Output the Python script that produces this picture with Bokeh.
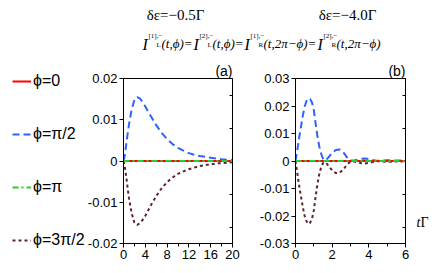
from bokeh.plotting import figure
from bokeh.models import (Range1d, LinearAxis, FixedTicker, SingleIntervalTicker,
                          Legend, LegendItem, Title, ColumnDataSource)
from bokeh.layouts import column, row
from bokeh.embed import file_html
from bokeh.resources import INLINE

# ---------------- data ----------------
t_a = [0, 0.25, 0.5, 0.75, 1, 1.5, 2, 2.5, 3, 3.5, 4, 5, 6, 7, 8, 9, 10,
       11, 12, 13, 14, 15, 16, 17, 18, 19, 20]
blue_a = [0, 0.0015, 0.0040, 0.0065, 0.0088, 0.0125, 0.0148, 0.0155, 0.0152,
          0.0143, 0.0132, 0.0109, 0.0087, 0.0068, 0.0053, 0.0041, 0.0032,
          0.0025, 0.0019, 0.0015, 0.0012, 0.0010, 0.0008, 0.0006, 0.0004,
          0.0003, 0.0002]
maroon_a = [0, -0.0015, -0.0038, -0.0065, -0.0090, -0.0127, -0.0149, -0.0155,
            -0.0151, -0.0143, -0.0133, -0.0108, -0.0085, -0.0066, -0.0051,
            -0.0040, -0.0031, -0.0025, -0.0020, -0.0016, -0.0012, -0.0010,
            -0.0008, -0.0006, -0.0005, -0.0004, -0.0003]
t_zero_a = [0, 20]
red_a = [0, 0]
green_a = [0, 0]

t_b = [0, 0.1, 0.2, 0.3, 0.4, 0.5, 0.6, 0.7, 0.8, 0.9, 1.0, 1.1, 1.2, 1.3,
       1.4, 1.5, 1.6, 1.7, 1.8, 2.0, 2.2, 2.4, 2.6, 2.8, 3.0, 3.2, 3.4, 3.6,
       3.8, 4.0, 4.2, 4.4, 4.6, 5.0, 5.5, 6.0]
blue_b = [0, 0.0040, 0.0085, 0.0125, 0.0165, 0.0198, 0.0218, 0.0228, 0.0225,
          0.0213, 0.0185, 0.0135, 0.0088, 0.0052, 0.0026, 0.0009, 0.0002,
          0.0006, 0.0013, 0.0030, 0.0040, 0.0042, 0.0033, 0.0014, 0.0002,
          0.0002, 0.0005, 0.0008, 0.0009, 0.0007, 0.0004, 0.0001, 0.0001,
          0.0003, 0.0002, 0.0001]
maroon_b = [0, -0.0045, -0.0090, -0.0130, -0.0168, -0.0200, -0.0219,
            -0.0229, -0.0224, -0.0210, -0.0180, -0.0128, -0.0082, -0.0047,
            -0.0022, -0.0008, -0.0004, -0.0009, -0.0018, -0.0034, -0.0044,
            -0.0043, -0.0032, -0.0014, -0.0002, -0.0002, -0.0005, -0.0008,
            -0.0009, -0.0007, -0.0004, -0.0001, -0.0001, -0.0003, -0.0002,
            -0.0001]
t_zero_b = [0, 6]
red_b = [0, 0]
green_b = [0, 0]

ya_ticks = [-0.02, -0.01, 0, 0.01, 0.02]
ya_labels = ["-0.02", "-0.01", "0", "0.01", "0.02"]
yb_ticks = [-0.03, -0.02, -0.01, 0, 0.01, 0.02, 0.03]
yb_labels = ["-0.03", "-0.02", "-0.01", "0", "0.01", "0.02", "0.03"]
ya_right_ticks = [-0.016, -0.008, 0.008, 0.016]
yb_right_ticks = [-0.024, -0.012, 0.012, 0.024]

legend_labels = ["ϕ=0", "ϕ=π/2", "ϕ=π", "ϕ=3π/2"]
titles = ["δε=−0.5Γ", "δε=−4.0Γ"]
panel_tags = ["(a)", "(b)"]

# ---------------- styles ----------------
SANS = "'Liberation Sans', sans-serif"
SERIF = "'Liberation Serif', serif"
RED = "#ff0000"
BLUE = "#2f62ff"
GREEN = "#2ecc2e"
MAROON = "#5a2430"
STYLES = [dict(line_color=RED, line_width=2),
          dict(line_color=BLUE, line_width=2, line_dash="7 4"),
          dict(line_color=GREEN, line_width=2, line_dash="6 3 2 3"),
          dict(line_color=MAROON, line_width=2, line_dash="3 3")]


def style_panel(p, xinterval, yticks, ylabels, right_ticks, tag):
    p.grid.visible = False
    p.outline_line_color = "black"
    p.outline_line_width = 1
    ax = p.xaxis[0]
    ax.ticker = SingleIntervalTicker(interval=xinterval, num_minor_ticks=2)
    ax.major_tick_in = 0
    ax.major_tick_out = 4
    ax.minor_tick_in = 0
    ax.minor_tick_out = 3
    ax.major_label_standoff = 2
    ax.minor_tick_line_color = "black"
    ay = p.yaxis[0]
    ay.ticker = FixedTicker(ticks=yticks)
    ay.major_label_overrides = {t: l for t, l in zip(yticks, ylabels)}
    ay.major_tick_in = 0
    ay.major_tick_out = 4
    ay.minor_tick_line_color = None
    ay.major_label_standoff = 2
    for a in (ax, ay):
        a.axis_line_color = "black"
        a.major_tick_line_color = "black"
        a.major_label_text_color = "black"
        a.major_label_text_font = SANS
        a.major_label_text_font_size = "13px"
    ra = LinearAxis(ticker=FixedTicker(ticks=right_ticks), major_tick_in=3,
                    major_tick_out=0, minor_tick_line_color=None,
                    major_label_overrides={t: "" for t in right_ticks},
                    major_label_standoff=0, axis_line_color="black")
    p.add_layout(ra, "right")
    p.add_layout(Title(text=tag, align="right", text_font=SANS, text_font_size="14px",
                       text_font_style="normal", text_color="black", standoff=0,
                       offset=0), "above")


def draw(p, t, blue, maroon, tz, red, green):
    rb = p.line(t, blue, **STYLES[1])
    rm = p.line(t, maroon, **STYLES[3])
    rr = p.line(tz, red, **STYLES[0])
    rg = p.line(tz, green, **STYLES[2])
    return rr, rb, rg, rm


def blank(p):
    p.axis.visible = False
    p.grid.visible = False
    p.outline_line_color = None


# ---------------- header ----------------
top = figure(width=436, height=60, x_range=Range1d(0, 436), y_range=Range1d(60, 0),
             output_backend="svg", toolbar_location=None, min_border=0)
blank(top)
top.text(x=[175, 347], y=[14, 14], text=titles, text_align="center",
         text_baseline="middle", text_font=SERIF, text_font_size="15px",
         text_color="black")

pieces = [
    (142, "I", "big"), (148, "[1],−", "sup"), (156, "L", "sub"), (161, "(t,ϕ)=", "main"),
    (193, "I", "big"), (199, "[2],−", "sup"), (207, "L", "sub"), (212, "(t,ϕ)=", "main"),
    (244, "I", "big"), (250, "[1],−", "sup"), (258, "R", "sub"), (263, "(t,2π−ϕ)=", "main"),
    (317, "I", "big"), (323, "[2],−", "sup"), (331, "R", "sub"), (336, "(t,2π−ϕ)", "main"),
]
kinds = {"big": (44, "16px", "italic"), "main": (43, "13px", "italic"),
         "sup": (35, "7px", "normal"), "sub": (44.5, "7px", "normal")}
src = ColumnDataSource(dict(
    x=[p[0] for p in pieces],
    y=[kinds[p[2]][0] for p in pieces],
    text=[p[1] for p in pieces],
    size=[kinds[p[2]][1] for p in pieces],
    style=[kinds[p[2]][2] for p in pieces],
))
top.text(x="x", y="y", text="text", source=src, text_align="left",
         text_baseline="alphabetic", text_font=SERIF, text_font_size="size",
         text_font_style="style", text_color="black")

# ---------------- legend column (hidden copies of the series, used for the key) ----------------
lf = figure(width=84, height=213, output_backend="svg", toolbar_location=None,
            min_border=0)
blank(lf)
key_r = draw(lf, t_a, blue_a, maroon_a, t_zero_a, red_a, green_a)
for r in key_r:
    r.visible = False
legend = Legend(items=[LegendItem(label=l, renderers=[r])
                       for l, r in zip(legend_labels, key_r)],
                location=(12, -7), glyph_width=19, glyph_height=20, label_height=20,
                spacing=33, padding=0, margin=0, label_standoff=2,
                border_line_alpha=0, background_fill_alpha=0,
                inactive_fill_alpha=0, click_policy="none",
                label_text_font=SANS, label_text_font_size="16px",
                label_text_color="black")
lf.add_layout(legend, "left")

# ---------------- panel (a) ----------------
pa = figure(width=166, height=213, x_range=Range1d(0, 20), y_range=Range1d(-0.02, 0.02),
            output_backend="svg", toolbar_location=None,
            min_border_left=37, min_border_right=18, min_border_top=18, min_border_bottom=30)
style_panel(pa, 4, ya_ticks, ya_labels, ya_right_ticks, panel_tags[0])
draw(pa, t_a, blue_a, maroon_a, t_zero_a, red_a, green_a)

# ---------------- panel (b) ----------------
pb = figure(width=160, height=213, x_range=Range1d(0, 6), y_range=Range1d(-0.03, 0.03),
            output_backend="svg", toolbar_location=None,
            min_border_left=45, min_border_right=5, min_border_top=18, min_border_bottom=30)
style_panel(pb, 2, yb_ticks, yb_labels, yb_right_ticks, panel_tags[1])
draw(pb, t_b, blue_b, maroon_b, t_zero_b, red_b, green_b)

# ---------------- axis name at right of panel (b) ----------------
tf = figure(width=26, height=213, x_range=Range1d(410, 436), y_range=Range1d(273, 60),
            output_backend="svg", toolbar_location=None, min_border=0)
blank(tf)
tf.text(x=[416], y=[246], text=["t"], text_align="left", text_baseline="alphabetic",
        text_font=SERIF, text_font_style="italic", text_font_size="14px",
        text_color="black")
tf.text(x=[420], y=[246], text=["Γ"], text_align="left", text_baseline="alphabetic",
        text_font=SERIF, text_font_size="14px", text_color="black")

layout = column(top, row(lf, pa, pb, tf))
open("out.html", "w").write(file_html(layout, INLINE))
